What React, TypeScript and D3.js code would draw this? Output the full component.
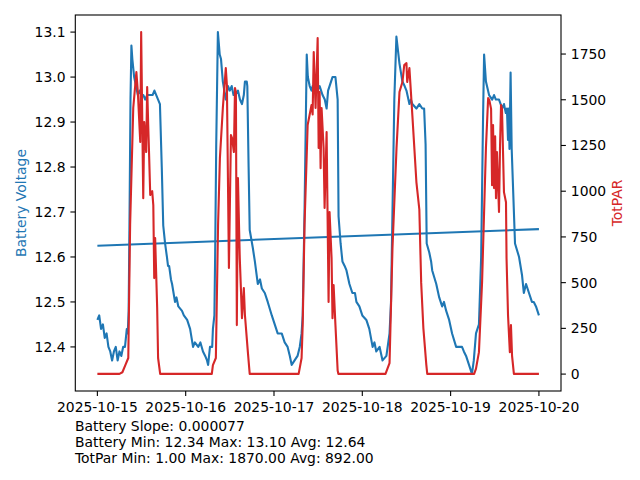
import React from "react";
import * as d3 from "d3";

// --- Data (hours after 2025-10-15 00:00, value) ---
const START = new Date(2025, 9, 15, 0, 0, 0);

const batteryReadings: [number, number][] = [
  [0, 12.46], [0.5, 12.47], [1.0, 12.44], [1.5, 12.45], [2.0, 12.42], [2.5, 12.43], [3.0, 12.4], [3.5, 12.39],
  [4.0, 12.37], [4.5, 12.39], [5.0, 12.4], [5.5, 12.37], [6.0, 12.39], [6.5, 12.38], [7.0, 12.4], [7.5, 12.4],
  [8.0, 12.44], [8.25, 12.43], [8.5, 12.48], [8.75, 12.7], [9.0, 12.95], [9.25, 13.07], [9.5, 13.04], [10.0, 13.0],
  [10.5, 12.98], [11.0, 12.96], [11.5, 12.97], [12.0, 12.96], [12.5, 12.96], [13.0, 12.95], [13.5, 12.96], [14.0, 12.96],
  [14.5, 12.96], [15.0, 12.96], [15.5, 12.97], [16.0, 12.96], [16.5, 12.95], [17.0, 12.94], [17.5, 12.8], [17.9, 12.67],
  [18.4, 12.63], [18.9, 12.6], [19.2, 12.58], [19.5, 12.58], [20.0, 12.55], [20.3, 12.54], [21.1, 12.5], [21.5, 12.51],
  [22.0, 12.49], [23.0, 12.48], [23.5, 12.47], [24.4, 12.46], [25.2, 12.44], [26.0, 12.4], [26.5, 12.41], [27.4, 12.4],
  [28.0, 12.41], [28.7, 12.39], [29.3, 12.38], [29.8, 12.37], [30.1, 12.36], [30.6, 12.4], [31.2, 12.4], [31.4, 12.44],
  [31.8, 12.47], [32.0, 12.6], [32.3, 12.85], [32.75, 13.1], [33.25, 13.05], [33.6, 13.04], [34.1, 12.99], [34.9, 12.95],
  [35.5, 12.98], [36.0, 12.97], [36.5, 12.98], [37.0, 12.96], [37.4, 12.96], [38.2, 12.97], [38.75, 12.95], [39.3, 12.94],
  [39.8, 12.96], [40.1, 12.99], [40.6, 12.99], [40.75, 12.98], [41.1, 12.8], [41.4, 12.66], [42.25, 12.62], [42.8, 12.59],
  [43.6, 12.54], [44.2, 12.55], [44.7, 12.53], [45.5, 12.52], [46.3, 12.5], [47.4, 12.47], [48.2, 12.45], [49.0, 12.43],
  [50.1, 12.43], [50.9, 12.41], [51.7, 12.4], [52.3, 12.38], [52.8, 12.36], [53.6, 12.37], [54.4, 12.38], [55.0, 12.4],
  [55.5, 12.43], [55.8, 12.47], [56.3, 12.7], [56.9, 13.05], [57.2, 13.0], [57.7, 12.98], [58.2, 12.97], [58.5, 12.98],
  [59.0, 12.97], [59.6, 12.97], [60.4, 12.98], [61.2, 12.96], [61.8, 12.95], [62.3, 12.93], [62.7, 12.97], [63.1, 12.98],
  [63.9, 13.0], [64.7, 13.0], [65.3, 12.95], [65.55, 12.69], [66.1, 12.63], [66.6, 12.59], [67.2, 12.58], [67.7, 12.57],
  [68.5, 12.54], [69.3, 12.52], [70.0, 12.52], [70.4, 12.5], [71.2, 12.49], [72.0, 12.47], [73.1, 12.46], [73.9, 12.44],
  [74.8, 12.4], [75.3, 12.41], [75.8, 12.39], [76.7, 12.4], [77.5, 12.37], [78.55, 12.38], [79.4, 12.43], [79.8, 12.5],
  [80.2, 12.7], [80.7, 12.95], [81.26, 13.09], [82.1, 13.03], [82.9, 12.99], [83.5, 12.98], [84.0, 12.97], [84.8, 12.94],
  [85.2, 12.95], [85.6, 12.94], [86.7, 12.93], [87.5, 12.94], [88.3, 12.93], [88.8, 12.93], [89.2, 12.85], [89.5, 12.63],
  [90.2, 12.61], [90.7, 12.59], [91.0, 12.57], [92.1, 12.54], [92.9, 12.51], [93.7, 12.49], [94.2, 12.5], [94.8, 12.48],
  [95.6, 12.46], [96.4, 12.43], [97.5, 12.4], [98.3, 12.4], [99.1, 12.4], [99.6, 12.39], [100.2, 12.38], [101.0, 12.36],
  [101.8, 12.34], [102.3, 12.37], [102.9, 12.43], [103.7, 12.45], [104.3, 12.6], [104.8, 12.9], [105.1, 13.05], [105.6, 12.99],
  [106.45, 12.96], [107.3, 12.95], [107.8, 12.96], [108.3, 12.95], [109.15, 12.95], [109.6, 12.94], [110.0, 12.93], [110.5, 12.94],
  [111.0, 12.92], [111.3, 12.93], [111.6, 12.86], [111.8, 12.93], [112.0, 12.84], [112.3, 13.01], [112.6, 12.84], [113.5, 12.63],
  [114.6, 12.6], [115.4, 12.56], [115.9, 12.52], [116.5, 12.54], [117.3, 12.52], [118.1, 12.5], [118.6, 12.5], [119.2, 12.49],
  [120, 12.47],
];

const parReadings: [number, number][] = [
  [0, 1], [6.0, 1], [6.8, 10], [7.6, 49], [8.4, 88], [8.9, 815], [9.75, 1455], [10.6, 1651], [11.0, 1542], [11.65, 1269],
  [11.9, 1870], [12.46, 962], [12.73, 1378], [13.27, 1214], [13.54, 1570], [13.81, 1362], [14.08, 1181], [14.36, 979],
  [14.9, 1000], [15.2, 924], [15.45, 525], [15.7, 744], [16.25, 361], [16.5, 88], [17.06, 1],
  [31.1, 1], [31.4, 49], [32.2, 88], [32.8, 815], [33.3, 1181], [34.1, 1455], [34.9, 1673], [35.2, 1580], [35.75, 580],
  [36.3, 1307], [36.6, 1290], [37.1, 1214], [37.4, 1564], [37.65, 1542], [37.9, 268], [38.2, 1072], [38.7, 634],
  [39.3, 306], [39.8, 470], [40.1, 323], [40.9, 120], [41.4, 1],
  [54.7, 1], [55.5, 88], [55.8, 268], [56.3, 815], [57.15, 1362], [58.2, 1471], [58.5, 1420], [58.8, 1761], [59.3, 1455],
  [59.86, 1837], [60.13, 1236], [60.4, 1542], [60.67, 1126], [60.94, 1455], [61.48, 1236], [61.75, 908], [62.3, 1323],
  [62.84, 394], [63.1, 886], [63.65, 634], [63.9, 306], [64.2, 487], [64.7, 268], [65.3, 20], [65.5, 1],
  [78.3, 1], [79.4, 60], [80.2, 689], [81.3, 1236], [82.1, 1542], [82.9, 1597], [83.4, 1690], [84.0, 1700], [84.2, 1597],
  [84.8, 1673], [85.6, 1416], [86.7, 1050], [87.5, 900], [88.0, 500], [88.6, 250], [89.4, 50], [89.65, 1],
  [102.4, 1], [102.9, 30], [103.7, 120], [104.55, 503], [105.6, 1236], [106.2, 1509], [106.5, 1500], [107.0, 1450],
  [107.26, 1033], [107.53, 1362], [107.8, 1017], [108.1, 1300], [108.34, 962], [108.6, 1214], [109.15, 886], [109.43, 1250],
  [109.7, 1471], [109.97, 1450], [110.5, 995], [111.05, 940], [111.2, 634], [111.6, 323], [112.1, 120], [112.4, 268],
  [112.7, 100], [113.2, 1], [120, 1],
];

// linear fit of battery voltage (start / end of the range)
const trendHours = [0, 120];
const trendVolts = [12.625, 12.662];

const voltTicks = [12.4, 12.5, 12.6, 12.7, 12.8, 12.9, 13.0, 13.1];
const parTicks = [0, 250, 500, 750, 1000, 1250, 1500, 1750];
const dateTicks = ["2025-10-15", "2025-10-16", "2025-10-17", "2025-10-18", "2025-10-19", "2025-10-20"];

const statLines = [
  "Battery Slope: 0.000077",
  "Battery Min: 12.34 Max: 13.10 Avg: 12.64",
  "TotPar Min: 1.00 Max: 1870.00 Avg: 892.00",
];

const BLUE = "#1f77b4";
const RED = "#d62728";
const FONT = "'DejaVu Sans', sans-serif";

const App: React.FC = () => {
  const width = 640;
  const height = 480;
  const left = 75.3;
  const right = 561;
  const top = 15;
  const bottom = 391;

  const toDate = (h: number) => d3.timeMinute.offset(START, Math.round(h * 60));

  // matplotlib-style 5% margins
  const pad = (ext: [number, number]): [number, number] => {
    const r = ext[1] - ext[0];
    return [ext[0] - r * 0.05, ext[1] + r * 0.05];
  };

  const tExt = d3.extent(batteryReadings, (d) => d[0]) as [number, number];
  const tDom = pad(tExt);
  const x = d3.scaleTime().domain([toDate(tDom[0]), toDate(tDom[1])]).range([left, right]);

  const yL = d3
    .scaleLinear()
    .domain(pad(d3.extent(batteryReadings, (d) => d[1]) as [number, number]))
    .range([bottom, top]);
  const yR = d3
    .scaleLinear()
    .domain(pad(d3.extent(parReadings, (d) => d[1]) as [number, number]))
    .range([bottom, top]);

  const batteryLine = d3
    .line<[number, number]>()
    .x((d) => x(toDate(d[0])))
    .y((d) => yL(d[1]));
  const parLine = d3
    .line<[number, number]>()
    .x((d) => x(toDate(d[0])))
    .y((d) => yR(d[1]));

  const trend: [number, number][] = trendHours.map((h, i) => [h, trendVolts[i]]);
  const parseDay = d3.timeParse("%Y-%m-%d");
  const tickLen = 4.9;
  const fs = 13.9;

  return (
    <svg
      width={width}
      height={height}
      style={{ position: "absolute", left: 0, top: 0, background: "#fff" }}
      fontFamily={FONT}
    >
      <rect x={0} y={0} width={width} height={height} fill="#fff" />

      {/* series */}
      <path d={batteryLine(batteryReadings) || ""} fill="none" stroke={BLUE} strokeWidth={2.1} strokeLinejoin="round" />
      <path d={batteryLine(trend) || ""} fill="none" stroke={BLUE} strokeWidth={2.1} />
      <path d={parLine(parReadings) || ""} fill="none" stroke={RED} strokeWidth={2.1} strokeLinejoin="round" />

      {/* frame */}
      <rect x={left} y={top} width={right - left} height={bottom - top} fill="none" stroke="#000" strokeWidth={1.1} />

      {/* x axis */}
      {dateTicks.map((s) => {
        const xx = x(parseDay(s) as Date);
        return (
          <g key={s}>
            <line x1={xx} x2={xx} y1={bottom} y2={bottom + tickLen} stroke="#000" strokeWidth={1.1} />
            <text x={xx} y={bottom + 20.5} textAnchor="middle" fontSize={fs} fill="#000">
              {s}
            </text>
          </g>
        );
      })}

      {/* left axis */}
      {voltTicks.map((v) => {
        const yy = yL(v);
        return (
          <g key={v}>
            <line x1={left - tickLen} x2={left} y1={yy} y2={yy} stroke="#000" strokeWidth={1.1} />
            <text x={left - 9.8} y={yy} dy="0.36em" textAnchor="end" fontSize={fs} fill="#000">
              {d3.format(".1f")(v)}
            </text>
          </g>
        );
      })}

      {/* right axis */}
      {parTicks.map((v) => {
        const yy = yR(v);
        return (
          <g key={v}>
            <line x1={right} x2={right + tickLen} y1={yy} y2={yy} stroke="#000" strokeWidth={1.1} />
            <text x={right + 9.8} y={yy} dy="0.36em" textAnchor="start" fontSize={fs} fill="#000">
              {v}
            </text>
          </g>
        );
      })}

      {/* axis labels */}
      <text
        transform={`translate(21,${(top + bottom) / 2}) rotate(-90)`}
        textAnchor="middle"
        dy="0.36em"
        fontSize={fs}
        fill={BLUE}
      >
        Battery Voltage
      </text>
      <text
        transform={`translate(617,${(top + bottom) / 2}) rotate(-90)`}
        textAnchor="middle"
        dy="0.36em"
        fontSize={fs}
        fill={RED}
      >
        TotPAR
      </text>

      {/* stats */}
      {statLines.map((s, i) => (
        <text key={s} x={75} y={430.5 + i * 16} fontSize={fs} fill="#000">
          {s}
        </text>
      ))}
    </svg>
  );
};

export default App;
